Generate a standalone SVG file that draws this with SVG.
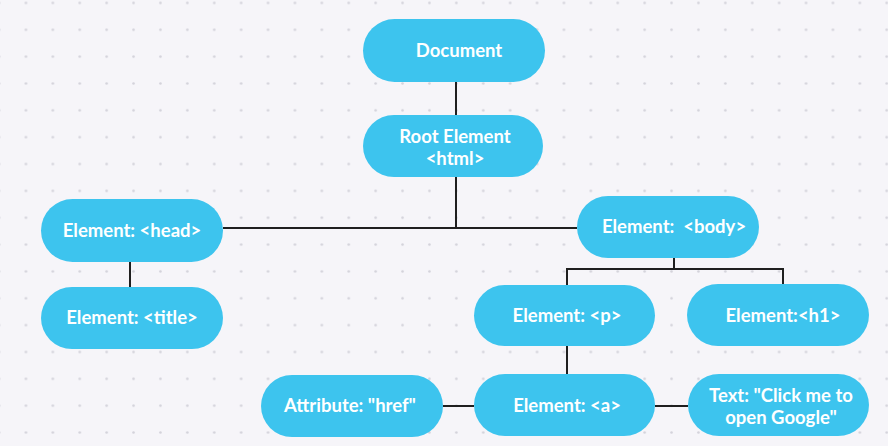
<svg xmlns="http://www.w3.org/2000/svg" width="888" height="446" viewBox="0 0 888 446">
<defs>
<pattern id="dots" x="12.5" y="-10.5" width="26.9" height="26.85" patternUnits="userSpaceOnUse">
<circle cx="13.45" cy="13.45" r="1.3" fill="#d3d2da"/>
</pattern>
<style>
.n{fill:#3DC4EE}
.t{fill:#ffffff;font-family:Lato,"Open Sans",sans-serif;font-weight:700;font-size:18.5px;text-anchor:middle}
.c{stroke:#1f1f1f;stroke-width:2;fill:none}
</style>
</defs>
<rect width="888" height="446" fill="#F6F5F9"/>
<rect width="888" height="446" fill="url(#dots)"/>
<g id="connectors" class="c">
<path d="M456 82V115"/>
<path d="M456 177V228"/>
<path d="M223 228H577"/>
<path d="M130 262V287"/>
<path d="M674 258V269"/>
<path d="M567 285V269H783V284"/>
<path d="M567 346V374"/>
<path d="M443 406H474"/>
<path d="M655 406H688"/>
</g>
<g id="document"><rect class="n" x="363" y="19" width="182" height="63" rx="31.5"/><text class="t" x="459" y="57">Document</text></g>
<g id="root"><rect class="n" x="363" y="115" width="180" height="62" rx="31"/><text class="t" x="455" y="143">Root Element</text><text class="t" x="455" y="165">&lt;html&gt;</text></g>
<g id="head"><rect class="n" x="41" y="199" width="182" height="63" rx="31.5"/><text class="t" x="132" y="237">Element: &lt;head&gt;</text></g>
<g id="title"><rect class="n" x="41" y="287" width="182" height="62" rx="31"/><text class="t" x="132" y="324">Element: &lt;title&gt;</text></g>
<g id="body"><rect class="n" x="577" y="196" width="182" height="62" rx="31"/><text class="t" x="674" y="233" xml:space="preserve">Element:  &lt;body&gt;</text></g>
<g id="p"><rect class="n" x="474" y="285" width="181" height="61" rx="30.5"/><text class="t" x="567" y="322">Element: &lt;p&gt;</text></g>
<g id="h1"><rect class="n" x="687" y="284" width="182" height="62" rx="31"/><text class="t" x="783" y="322">Element:&lt;h1&gt;</text></g>
<g id="attribute"><rect class="n" x="261" y="375" width="182" height="62" rx="31"/><text class="t" x="350" y="412">Attribute: "href"</text></g>
<g id="a"><rect class="n" x="474" y="374" width="181" height="62" rx="31"/><text class="t" x="567" y="412">Element: &lt;a&gt;</text></g>
<g id="text"><rect class="n" x="688" y="374" width="181" height="62" rx="31"/><text class="t" x="781" y="402">Text: "Click me to</text><text class="t" x="781" y="424">open Google"</text></g>
</svg>
